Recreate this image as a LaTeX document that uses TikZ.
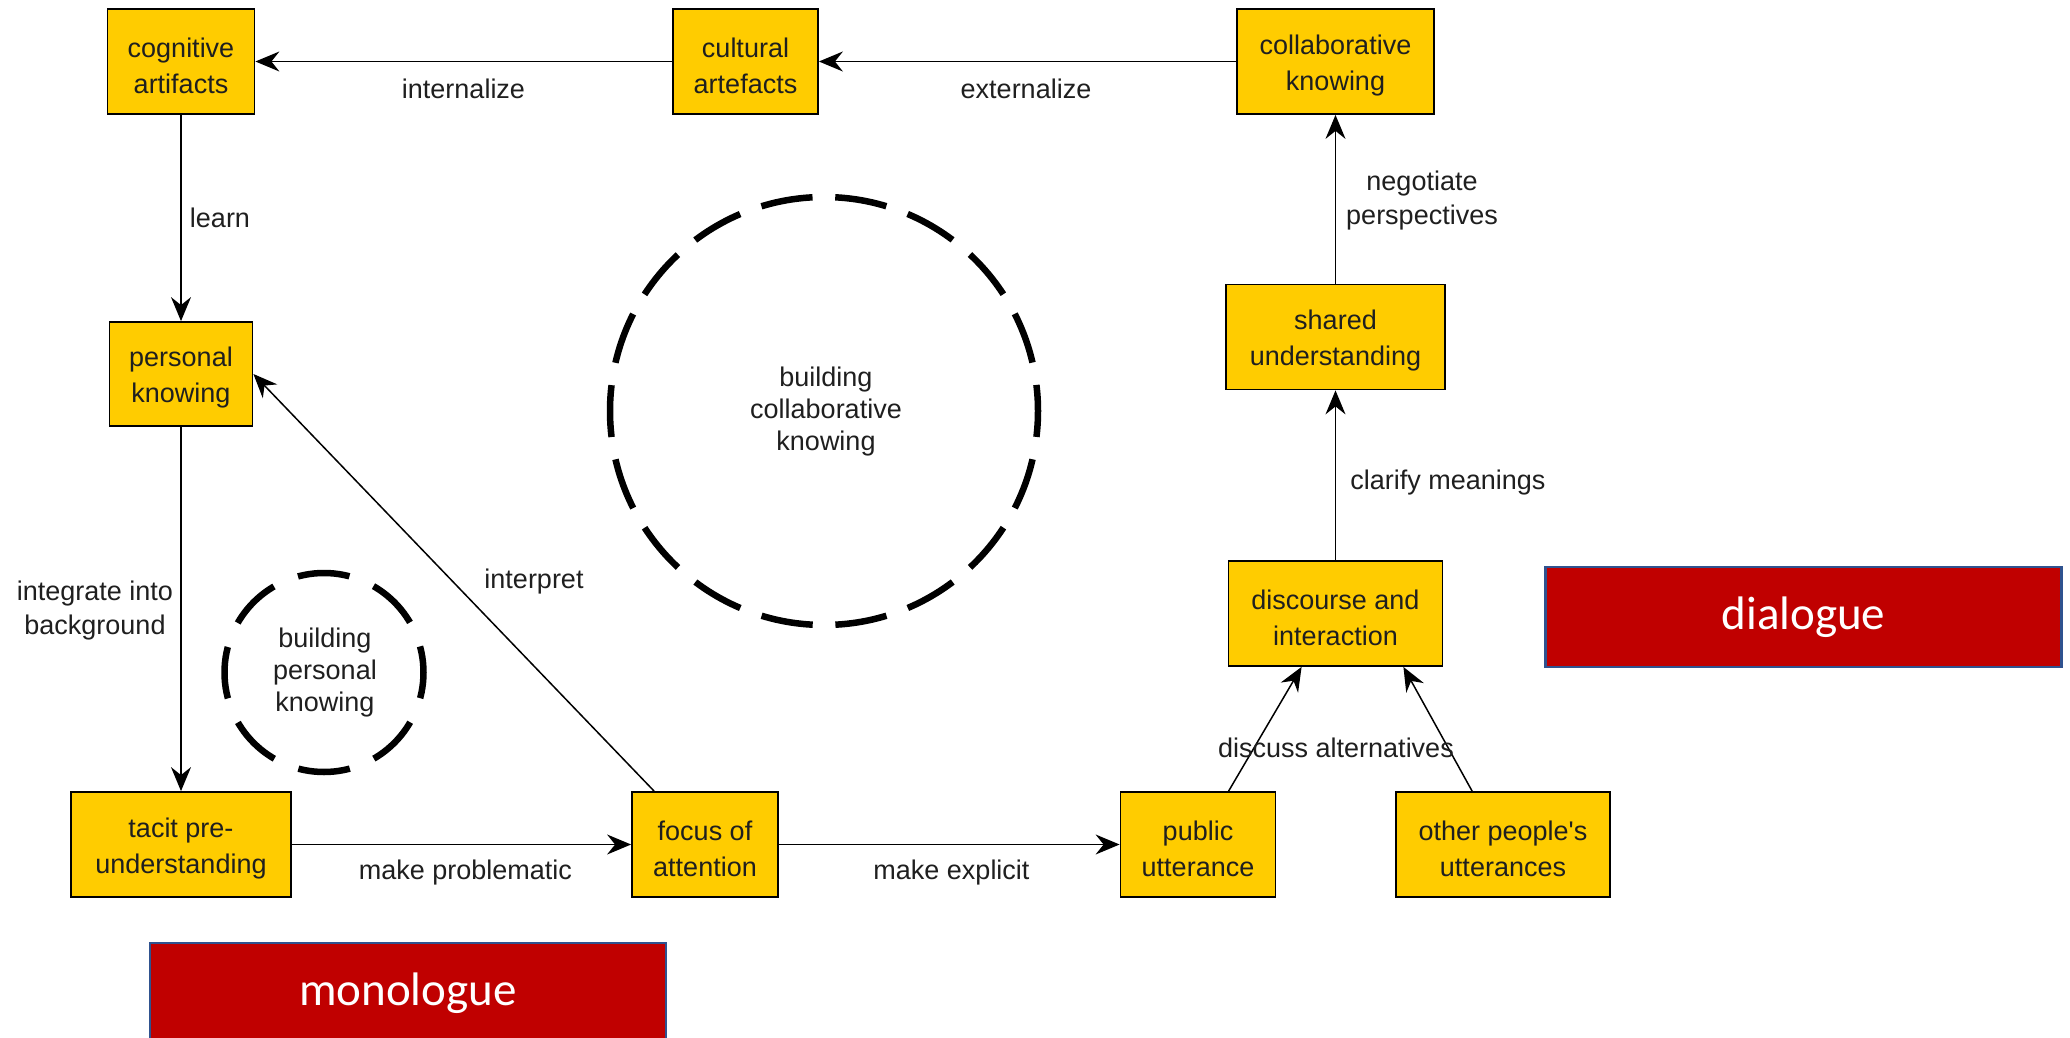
\documentclass[tikz,border=0pt]{standalone}
\usepackage{fontspec}
\setmainfont{Liberation Sans}
\newfontfamily\calib{Carlito}
\usetikzlibrary{arrows.meta}
\definecolor{boxyellow}{HTML}{FFCC00}
\definecolor{boxred}{HTML}{C00000}
\definecolor{boxblue}{HTML}{2F528F}
\newcommand\topstrut{\rule{0pt}{27.5pt}}
\begin{document}
\begin{tikzpicture}[x=1pt,y=-1pt,
  box/.style={draw=black, line width=1.8pt, fill=boxyellow, inner sep=0pt, align=center,
    font=\fontsize{27}{36}\selectfont, text=black!88},
  lbl/.style={inner sep=0pt, align=center, font=\fontsize{27}{34}\selectfont, text=black!88},
  redbox/.style={draw=boxblue, line width=2.5pt, fill=boxred, text=white, inner sep=0pt,
    minimum width=516pt, minimum height=100pt, font=\calib\fontsize{47}{56}\selectfont},
  arr/.style={line width=1.5pt, -{Stealth[length=24pt, width=20pt, inset=8pt]}},
  ring/.style={line width=6.5pt, dash pattern=on 52pt off 22.7pt, dash phase=26pt},
  smallring/.style={line width=6.5pt, dash pattern=on 52pt off 26.1pt, dash phase=26pt},
]
\useasboundingbox (0,0) rectangle (2070,1038);
\fill[white] (0,0) rectangle (2070,1038);

% dashed rings
\draw[ring] (824,411) circle[radius=214];
\node[lbl, font=\fontsize{27}{32}\selectfont] (bck) at (826,412) {building\\collaborative\\knowing};
\draw[smallring] (324,672.5) circle[radius=99.5];
\node[lbl, font=\fontsize{27}{32}\selectfont] (bpk) at (325,673) {building\\personal\\knowing};

% boxes
\node[box, minimum width=147pt, minimum height=105pt] (cog) at (181,61.5) {\topstrut cognitive\\artifacts};
\node[box, minimum width=145pt, minimum height=105pt] (cul) at (745.5,61.5) {\topstrut cultural\\artefacts};
\node[box, minimum width=197pt, minimum height=105pt] (col) at (1335.5,61.5) {\topstrut collaborative\\knowing};
\node[box, minimum width=143pt, minimum height=104pt] (per) at (181,374) {\topstrut personal\\knowing};
\node[box, minimum width=219pt, minimum height=105pt] (sha) at (1335.5,337) {\topstrut shared\\understanding};
\node[box, minimum width=214pt, minimum height=105pt] (dis) at (1335.5,613.5) {\topstrut discourse and\\interaction};
\node[box, minimum width=220pt, minimum height=105pt] (tac) at (181,844.5) {\topstrut tacit pre-\\understanding};
\node[box, minimum width=146pt, minimum height=105pt] (foc) at (705,844.5) {\topstrut focus of\\attention};
\node[box, minimum width=155pt, minimum height=105pt] (pub) at (1198,844.5) {\topstrut public\\utterance};
\node[box, minimum width=214pt, minimum height=105pt] (oth) at (1503,844.5) {\topstrut other people\textquotesingle s\\utterances};

% red boxes
\node[redbox] (dia) at (1803.5,617) {dialogue};
\node[redbox] (mon) at (408,993) {monologue};

% connectors
\draw[arr] (cul) -- (cog);
\draw[arr] (col) -- (cul);
\draw[arr] (cog) -- (per);
\draw[arr] (per) -- (tac);
\draw[arr] (tac) -- (foc);
\draw[arr] (foc) -- (pub);
\draw[arr] ([xshift=23pt]foc.north west) -- (per.east);
\draw[arr] ([xshift=109pt]pub.north west) -- ([xshift=74pt]dis.south west);
\draw[arr] ([xshift=77pt]oth.north west) -- ([xshift=-40pt]dis.south east);
\draw[arr] (dis) -- (sha);
\draw[arr] (sha) -- (col);

% labels
\node[lbl] (l1) at (463.5,89) {internalize};
\node[lbl] (l2) at (1026,89) {externalize};
\node[lbl] (l3) at (220,218) {learn};
\node[lbl] (l4) at (1422,201) {negotiate\\perspectives};
\node[lbl] (l5) at (1448,483) {clarify meanings};
\node[lbl] (l6) at (95,611) {integrate into\\background};
\node[lbl] (l7) at (534,582) {interpret};
\node[lbl] (l8) at (1336,748) {discuss alternatives};
\node[lbl] (l9) at (465.5,873) {make problematic};
\node[lbl] (l10) at (951.5,873) {make explicit};
\end{tikzpicture}
\end{document}
